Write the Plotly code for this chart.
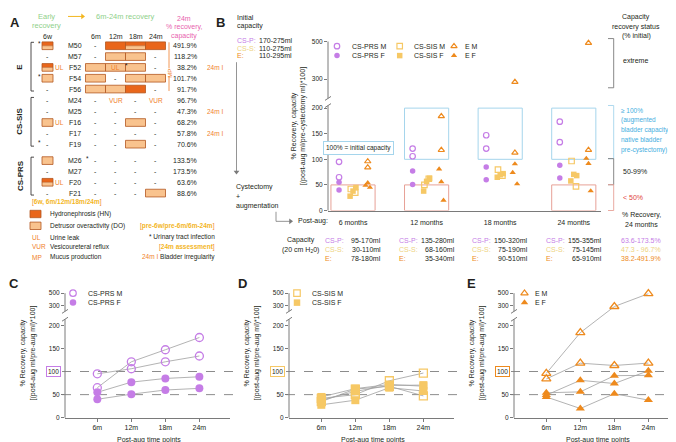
import plotly.graph_objects as go

W, H = 676, 442
FONT = "Arial, Liberation Sans, sans-serif"
TXT = "#231f20"
AX = "#7a7a7a"
LINEG = "#a0a0a0"
PURPLE = "#c57de6"
YELLOW = "#f6c865"
YELLOW_T = "#eed37f"
ORANGE = "#ee8a1d"
ORANGE_T = "#f07f2b"
HN_C = "#e9661b"
DO_C = "#f9c38e"
EDGE_C = "#b3571f"
GREEN = "#8fd08a"
PINK = "#e85fae"
BLUE_T = "#45aee0"
BLUE_BOX = "#a5d5ec"
RED_T = "#e2453c"
RED_BOX = "#e7a197"
GOLD = "#f3b61f"

# ---------------- data ----------------
timepoints = ["6m", "12m", "18m", "24m"]
month_labels = ["6 months", "12 months", "18 months", "24 months"]
y_ticks = [0, 50, 100, 150, 200, 300, 500]

# % recovery of capacity per animal at 6m, 12m, 18m, 24m
prs_M27 = [65, 121, 147, 173.5]
prs_M26 = [95, 106, 121, 133.5]
prs_F21 = [55, 77, 85, 88.6]
prs_F20 = [40, 51, 60, 63.6]

sis_M24 = [42, 50, 80, 96.7]
sis_M25 = [35, 62, 68, 47.3]
sis_F16 = [45, 63, 72, 68.2]
sis_F17 = [28, 38, 65, 57.8]
sis_F19 = [38, 57, 70, 70.6]

e_M50 = [96, 184, 285, 491.9]
e_M57 = [84, 118, 113, 118.2]
e_F52 = [45, 20, 52, 38.2]
e_F54 = [49, 81, 74, 101.7]
e_F56 = [54, 56, 91, 91.7]

init_cap_labels = ["CS-P:", "CS-S:", "E:"]
init_cap = ["170-275ml", "110-275ml", "110-295ml"]
cap_prs = ["95-170ml", "135-280ml", "150-320ml", "155-355ml"]
cap_sis = ["30-110ml", "68-160ml", "75-190ml", "75-145ml"]
cap_e = ["78-180ml", "35-340ml", "90-510ml", "65-910ml"]
range_24m = ["63.6-173.5%", "47.3 - 96.7%", "38.2-491.9%"]

table_ids = ["M50", "M57", "F52", "F54", "F56", "M24", "M25", "F16", "F17", "F19",
             "M26", "M27", "F20", "F21"]
table_group = [0, 0, 0, 0, 0, 1, 1, 1, 1, 1, 2, 2, 2, 2]
group_names = ["E", "CS-SIS", "CS-PRS"]
early_6w = ["HN/DO", "-", "HN/DO", "DO", "-", "-", "-", "DO", "-", "-", "DO", "-", "HN/DO", "-"]
early_ul = [0, 0, 1, 0, 0, 0, 0, 1, 0, 0, 0, 0, 1, 0]
uti_pre6w = [1, 0, 0, 1, 0, 0, 0, 0, 0, 1, 0, 0, 0, 0]
uti_pre6m = [0, 0, 0, 0, 0, 0, 0, 0, 0, 0, 1, 0, 0, 0]
post_6m_24m = [
    ["-", "HN", "HN/DO", "HN"],
    ["-", "DO", "DO", "-"],
    ["DO", "DO", "DO", "-"],
    ["DO", "-", "DO", "DO"],
    ["DO", "DO", "HN", "-"],
    ["-", "VUR", "-", "VUR"],
    ["-", "-", "-", "-"],
    ["-", "-", "DO", "-"],
    ["-", "-", "-", "-"],
    ["-", "-", "DO", "-"],
    ["-", "-", "-", "-"],
    ["-", "-", "-", "-"],
    ["-", "-", "-", "-"],
    ["-", "-", "-", "DO"],
]
post_marks = [["", "", "", ""]] * 2 + [["", "UL", "*", ""]] + [["", "", "", ""]] * 11
recovery_24m = [491.9, 118.2, 38.2, 101.7, 91.7, 96.7, 47.3, 68.2, 57.8, 70.6,
                133.5, 173.5, 63.6, 88.6]
irregular_24m = [0, 0, 1, 0, 0, 0, 1, 0, 1, 0, 0, 0, 0, 0]


# ---------------- helpers ----------------
def px(x):
    return x / W


def py(y):
    return 1 - y / H


def tB(v):  # broken axis transform, panel B
    return v if v <= 200 else 256.5 + (v - 300) * 0.368


def tC(v):  # broken axis transform, panels C-E
    return v if v <= 200 else 242.5 + (v - 300) * 0.134


ann = []
shapes = []
overlay_marks = []  # (x, y, symbol, size, color, open)


def text(x, y, s, size=7, color=TXT, xanchor="center", bold=False, angle=0, **kw):
    if bold:
        s = "<b>%s</b>" % s
    d = dict(x=px(x), y=py(y), xref="paper", yref="paper", text=s, showarrow=False,
             xanchor=xanchor, yanchor="middle", textangle=angle,
             font=dict(size=size, color=color, family=FONT))
    d.update(kw)
    ann.append(d)


def line(x0, y0, x1, y1, color=AX, width=1, dash=None, layer="above", xref="paper", yref="paper"):
    if xref == "paper":
        x0, x1 = px(x0), px(x1)
    if yref == "paper":
        y0, y1 = py(y0), py(y1)
    shapes.append(dict(type="line", xref=xref, yref=yref, x0=x0, y0=y0, x1=x1, y1=y1,
                       line=dict(color=color, width=width, dash=dash), layer=layer))


def rect(x0, y0, x1, y1, fill=None, edge=None, width=0.8, xref="paper", yref="paper", layer="above"):
    if xref == "paper":
        x0, x1 = px(x0), px(x1)
    if yref == "paper":
        y0, y1 = py(y0), py(y1)
    shapes.append(dict(type="rect", xref=xref, yref=yref, x0=x0, y0=y0, x1=x1, y1=y1,
                       fillcolor=fill if fill else "rgba(0,0,0,0)",
                       line=dict(color=edge if edge else "rgba(0,0,0,0)", width=width if edge else 0),
                       layer=layer))


def arrow(x0, y0, x1, y1, color=AX, width=0.8, head=5):
    if x0 == x1:
        sym, hx, hy = ("triangle-down" if y1 > y0 else "triangle-up"), x1, y1 - head / 2 * (1 if y1 > y0 else -1)
        line(x0, y0, x1, hy, color=color, width=width)
    else:
        sym, hx, hy = ("triangle-right" if x1 > x0 else "triangle-left"), x1 - head / 2 * (1 if x1 > x0 else -1), y1
        line(x0, y0, hx, y1, color=color, width=width)
    overlay_marks.append((hx, hy, sym, head, color, False))


def span(s, c):
    return '<span style="color:%s">%s</span>' % (c, s)


fig = go.Figure()

# ================= PANEL A (table) =================
text(7, 11, "A", size=13, bold=True)
text(38, 5, "Early", size=7.5, color=GREEN)
text(38, 14, "recovery", size=7.5, color=GREEN)
arrow(60, 4.5, 77, 4.5, color=GOLD, width=1, head=5)
text(117.5, 5, "6m-24m recovery", size=7.5, color=GREEN)
text(176, 7, "24m", size=7, color=PINK)
text(176, 15.5, "% recovery,", size=7, color=PINK)
text(176, 24, "capacity", size=7, color=PINK)

COL_X = {"6w": 39.5, "6m": 87.5, "12m": 107.5, "18m": 127.5, "24m": 147.5}
for c, xv in COL_X.items():
    text(xv, 24.5, c, size=7)

ROW_Y0, ROW_STEP = 34.3, 11.0
GROUP_GAP = [0, 1.0, 6.7]
CELL_W, CELL_H, EARLY_W = 20, 7.8, 11


def row_y(i):
    return ROW_Y0 + ROW_STEP * i + GROUP_GAP[table_group[i]]


def cell(xc, yc, w, status):
    x0, x1 = xc - w / 2, xc + w / 2
    y0, y1 = yc - CELL_H / 2, yc + CELL_H / 2
    if status == "HN":
        rect(x0, y0, x1, y1, fill=HN_C, edge=EDGE_C)
    elif status == "DO":
        rect(x0, y0, x1, y1, fill=DO_C, edge=EDGE_C)
    elif status == "HN/DO":
        rect(x0, y0, x1, yc, fill=HN_C)
        rect(x0, yc, x1, y1, fill=DO_C)
        line(x0, yc, x1, yc, color=EDGE_C, width=0.6)
        rect(x0, y0, x1, y1, edge=EDGE_C)


for i, rid in enumerate(table_ids):
    yv = row_y(i)
    text(67, yv, rid, size=7)
    if early_6w[i] == "-":
        text(COL_X["6w"], yv, "-", size=7)
    else:
        cell(COL_X["6w"], yv, EARLY_W, early_6w[i])
    if early_ul[i]:
        text(51.5, yv, "UL", size=6.5, color=ORANGE_T)
    if uti_pre6w[i]:
        text(31.5, yv - 2, "*", size=6.5)
    if uti_pre6m[i]:
        text(79.5, yv - 2, "*", size=6.5)
    for j, c in enumerate(["6m", "12m", "18m", "24m"]):
        s = post_6m_24m[i][j]
        if s in ("HN", "DO", "HN/DO"):
            cell(COL_X[c], yv, CELL_W, s)
        elif s == "VUR":
            text(COL_X[c], yv, "VUR", size=6.5, color=ORANGE_T)
        else:
            text(COL_X[c], yv, "-", size=7)
        m = post_marks[i][j]
        if m == "UL":
            text(COL_X[c], yv, "UL", size=6.5, color=ORANGE_T)
        elif m == "*":
            text(COL_X[c] - CELL_W / 2 + 1, yv - 1.5, "*", size=6.5)
    text(191, yv, "%.1f%%" % recovery_24m[i], size=7, xanchor="right")
    if irregular_24m[i]:
        text(197, yv, "24m I", size=6.5, color=ORANGE_T, xanchor="left")

# group labels + brackets
for g, gname in enumerate(group_names):
    rows = [i for i in range(len(table_ids)) if table_group[i] == g]
    ytop, ybot = row_y(rows[0]) - 3.5, row_y(rows[-1]) + 2
    line(23, ytop, 23, ybot, color=TXT, width=0.8)
    line(23, ytop, 26, ytop, color=TXT, width=0.8)
    line(23, ybot, 26, ybot, color=TXT, width=0.8)
    text(12, (ytop + ybot) / 2, gname, size=8, bold=True, angle=-90)

# mucus production bracket
line(161, row_y(0) - 3.5, 161, row_y(2) + 1, color=ORANGE_T, width=0.8)
text(162, (row_y(2) + row_y(3)) / 2 + 1, "MP", size=6, color=ORANGE_T, angle=-90)
line(161, row_y(3) - 2, 161, row_y(4) + 2, color=ORANGE_T, width=0.8)

# legend section
text(22, 193.3, span("[", ORANGE_T) + span("<b>6w, 6m/12m/18m/24m</b>", GOLD) + span("]", ORANGE_T),
     size=6.5, xanchor="left")
rect(22, 201.5, 33, 209, fill=HN_C, edge=EDGE_C)
text(40, 205.3, "Hydronephrosis (HN)", size=6.5, xanchor="left")
rect(22, 213.5, 33, 221, fill=DO_C, edge=EDGE_C)
text(40, 217.3, "Detrusor overactivity (DO)", size=6.5, xanchor="left")
text(209, 217.3, span("[", ORANGE_T) + span("<b>pre-6w/pre-6m/6m-24m</b>", GOLD) + span("]", ORANGE_T),
     size=6.5, xanchor="right")
text(22, 228.7, "UL", size=6.5, color=ORANGE_T, xanchor="left")
text(40, 228.7, "Urine leak", size=6.5, xanchor="left")
text(209, 228.7, "* Urinary tract infection", size=6.5, xanchor="right")
text(22, 238.7, "VUR", size=6.5, color=ORANGE_T, xanchor="left")
text(40, 238.7, "Vesicoureteral reflux", size=6.5, xanchor="left")
text(209, 238.7, span("[", ORANGE_T) + span("<b>24m assessment</b>", GOLD) + span("]", ORANGE_T),
     size=6.5, xanchor="right")
text(22, 249, "MP", size=6.5, color=ORANGE_T, xanchor="left")
text(40, 249, "Mucus production", size=6.5, xanchor="left")
text(209, 249, span("24m I", ORANGE_T) + " Bladder irregularity", size=6.5, xanchor="right")

# ================= PANEL B =================
text(212, 11, "B", size=13, bold=True)
text(227, 5.3, "Initial", size=7, xanchor="left")
text(227, 14.7, "capacity", size=7, xanchor="left")
for k, (lab, val, col) in enumerate(zip(init_cap_labels, init_cap, [PURPLE, YELLOW_T, ORANGE])):
    yy = 28.7 + 8 * k
    text(227, yy, lab, size=7, color=col, xanchor="left")
    text(249, yy, val, size=7, xanchor="left")
arrow(228.5, 51, 228.5, 165)
text(226, 178.3, "Cystectomy", size=7, xanchor="left")
text(226, 187.5, "+", size=7, xanchor="left")
text(226, 196.7, "augmentation", size=7, xanchor="left")
line(268, 203, 268, 212.7, width=0.8)
arrow(268, 212.7, 285, 212.7)
text(288, 212.7, "Post-aug:", size=7, xanchor="left")

text(292.5, 232, "Capacity", size=7)
text(292.5, 241.5, "(20 cm H<sub>2</sub>0)", size=7)
for i in range(4):
    for k, (lab, vals, col) in enumerate(zip(init_cap_labels, [cap_prs, cap_sis, cap_e],
                                               [PURPLE, YELLOW_T, ORANGE])):
        yy = 232 + 9.35 * k
        ann.append(dict(x=i + 1, y=py(yy), xref="x", yref="paper", text=lab, showarrow=False,
                        xanchor="left", yanchor="middle", xshift=-30,
                        font=dict(size=7, color=col, family=FONT)))
        ann.append(dict(x=i + 1, y=py(yy), xref="x", yref="paper", text=vals[i], showarrow=False,
                        xanchor="right", yanchor="middle", xshift=30,
                        font=dict(size=7, color=TXT, family=FONT)))
for k, (s, col) in enumerate(zip(range_24m, [PURPLE, YELLOW_T, ORANGE])):
    text(633, 232 + 9.35 * k, s, size=7, color=col)

# recovery status column
text(628, 5.3, "Capacity", size=7)
text(628, 15, "recovery status", size=7)
text(628, 24.5, "(% initial)", size=7)
for (y0, y1, col) in [(27, 77, AX), (95, 149, BLUE_BOX), (149, 175.5, AX), (175.5, 201.7, RED_BOX)]:
    line(605.7, y0, 605.7, y1, color=col, width=0.9)
    line(600, y0, 605.7, y0, color=col, width=0.9)
    line(600, y1, 605.7, y1, color=col, width=0.9)
text(613, 49, "extreme", size=7, xanchor="left")
for k, s in enumerate(["\u2265 100%", "(augmented", "bladder capacity \u2265", "native bladder",
                       "pre-cystectomy)"]):
    text(611, 100 + 10 * k, s, size=6.5, color=BLUE_T, xanchor="left")
text(613, 162, "50-99%", size=7, xanchor="left")
text(613, 188, "&lt; 50%", size=7, color=RED_T, xanchor="left")
text(633, 206.7, "% Recovery,", size=7)
text(633, 216, "24 months", size=7)

# boxes (blue >=100, red <50)
for i in [2, 3, 4]:
    rect(i - 0.3, tB(100), i + 0.3, tB(200), edge=BLUE_BOX, width=1, xref="x", yref="y", layer="below")
for i in [1, 2, 4]:
    rect(i - 0.3, tB(0), i + 0.3, tB(50), edge=RED_BOX, width=1, xref="x", yref="y", layer="below")
ann.append(dict(x=px(350.5), y=py(138.5), xref="paper", yref="paper", text="100% = initial capacity",
                showarrow=False, xanchor="center", yanchor="middle", bgcolor="white",
                bordercolor=BLUE_BOX, borderwidth=1, borderpad=2,
                font=dict(size=6.5, color=TXT, family=FONT)))

# B axis line (broken)
B_AX = 320


def pB(t):
    return 201.7 - t * (171.7 / tB(500))


line(B_AX, pB(0), B_AX, pB(205), width=1)
line(B_AX, pB(219), B_AX, pB(tB(500)), width=1)
for t in (205, 219):
    yy = pB(t)
    line(B_AX - 3, yy + 2, B_AX + 3, yy - 2, width=1)
text(290, 116, "% Recovery, capacity<br>[(post-aug ml/pre-cystectomy ml)*100]", size=7, angle=-90)

groupsB = [
    ([prs_M27, prs_M26], [prs_F21, prs_F20], "circle", PURPLE, -0.19, [0, 0], [0, 0]),
    ([sis_M24, sis_M25], [sis_F16, sis_F17, sis_F19], "square", YELLOW, 0.0, [-0.03, 0.03], [0.04, -0.04, 0.0]),
    ([e_M50, e_M57], [e_F52, e_F54, e_F56], "triangle-up", ORANGE, 0.2, [0, 0], [0.03, -0.03, 0.0]),
]
for males, females, sym, col, off, jm, jf in groupsB:
    for animals, jit, opn in ((males, jm, True), (females, jf, False)):
        xs, ys = [], []
        for a, j in zip(animals, jit):
            for t, v in enumerate(a):
                xs.append(t + 1 + off + j)
                ys.append(tB(v))
        fig.add_trace(go.Scatter(x=xs, y=ys, mode="markers", xaxis="x", yaxis="y", cliponaxis=False,
                                 marker=dict(symbol=sym + ("-open" if opn else ""), size=5.5, color=col,
                                             line=dict(width=1.2 if opn else 0, color=col)),
                                 showlegend=False, hoverinfo="skip"))

# B legend
legB = [(329, 342, "circle", PURPLE, "CS-PRS"), (391.7, 404, "square", YELLOW, "CS-SIS"),
        (446, 455, "triangle-up", ORANGE, "E")]
for mx, tx, sym, col, name in legB:
    for k, (sx, opn) in enumerate((("M", True), ("F", False))):
        yy = 34.7 + 9.6 * k
        overlay_marks.append((mx, yy, sym, 5.5, col, opn))
        text(tx, yy, "%s %s" % (name, sx), size=7, xanchor="left")

# ================= PANELS C, D, E =================
CDE = [
    ("C", 0, [prs_M27, prs_M26], [prs_F21, prs_F20], "circle", PURPLE, "CS-PRS", 65, 78),
    ("D", 224, [sis_M24, sis_M25], [sis_F16, sis_F17, sis_F19], "square", YELLOW, "CS-SIS", 289, 302),
    ("E", 449, [e_M50, e_M57], [e_F52, e_F54, e_F56], "triangle-up", ORANGE, "E", 516.5, 525),
]
Y0C, Y500C = 412.3, 285.7


def pC(t):
    return Y0C - t * ((Y0C - Y500C) / tC(500))


cde_ticks = [v for v in y_ticks if v != 100]
axes = {}
for n, (letter, dx, males, females, sym, col, gname, lmx, ltx) in enumerate(CDE):
    k = n + 2
    xa, ya = "x%d" % k, "y%d" % k
    ax0 = 57 + dx
    axes["xaxis%d" % k] = dict(domain=[px(ax0), px(ax0 + 165)], range=[0.05, 4.9], anchor=ya,
                               showline=True, linecolor=AX, linewidth=1, ticks="outside", ticklen=3,
                               tickcolor=AX, tickvals=[1, 2, 3, 4], ticktext=timepoints,
                               tickfont=dict(size=7, color=TXT, family=FONT),
                               showgrid=False, zeroline=False, fixedrange=True)
    axes["yaxis%d" % k] = dict(domain=[py(Y0C), py(Y500C)], range=[0, tC(500)], anchor=xa,
                               showline=False, ticks="outside", ticklen=3, tickcolor=AX,
                               tickvals=[tC(v) for v in cde_ticks],
                               ticktext=[str(v) for v in cde_ticks],
                               tickfont=dict(size=6.5, color=TXT, family=FONT),
                               showgrid=False, zeroline=False, fixedrange=True)
    # broken y axis line
    line(ax0, pC(0), ax0, pC(213), width=1)
    line(ax0, pC(230), ax0, pC(tC(500)), width=1)
    for t in (213, 230):
        yy = pC(t)
        line(ax0 - 3, yy + 2, ax0 + 3, yy - 2, width=1)
    # dashed reference lines
    for v in (100, 50):
        shapes.append(dict(type="line", xref="paper", yref=ya, x0=px(ax0 - 3),
                           x1=px(min(ax0 + 173, 676)), y0=v, y1=v, layer="below",
                           line=dict(color="#8c8c8c", width=1, dash="dash")))
    ann.append(dict(x=px(ax0 - 4), y=100, xref="paper", yref=ya, text="100", showarrow=False,
                    xanchor="right", yanchor="middle", bordercolor=col, borderwidth=1, borderpad=1,
                    bgcolor="white", font=dict(size=6.5, color=TXT, family=FONT)))
    # animal lines
    for a in males + females:
        fig.add_trace(go.Scatter(x=[1, 2, 3, 4], y=[tC(v) for v in a], mode="lines", xaxis=xa, yaxis=ya,
                                 line=dict(color=LINEG, width=0.8), cliponaxis=False,
                                 showlegend=False, hoverinfo="skip"))
    for animals, opn in ((males, True), (females, False)):
        xs, ys = [], []
        for a in animals:
            for t, v in enumerate(a):
                xs.append(t + 1)
                ys.append(tC(v))
        fig.add_trace(go.Scatter(x=xs, y=ys, mode="markers", xaxis=xa, yaxis=ya, cliponaxis=False,
                                 marker=dict(symbol=sym + ("-open" if opn else ""), size=8,
                                             color=col, line=dict(width=1.3 if opn else 0, color=col)),
                                 showlegend=False, hoverinfo="skip"))
    # legend
    for j, (sx, opn) in enumerate((("M", True), ("F", False))):
        yy = 285.7 + 9.6 * j
        overlay_marks.append((lmx, yy, sym, 6.5, col, opn))
        text(ltx, yy, "%s %s" % (gname, sx), size=7, xanchor="left")
    text(6 + dx + (4 if n == 1 else 0) + (8 if n == 2 else 0), 276, letter, size=13, bold=True)
    text(20 + dx, 347, "% Recovery, capacity<br>[(post-aug ml/pre-aug ml)*100]", size=7, angle=-90)
    text(140.5 + dx, 435, "Post-aug time points", size=7)

# overlay marks (legend symbols, arrow heads) on a pixel-space axis
for (mx, my, sym, sz, col, opn) in overlay_marks:
    fig.add_trace(go.Scatter(x=[mx], y=[my], mode="markers", xaxis="x5", yaxis="y5", cliponaxis=False,
                             marker=dict(symbol=sym + ("-open" if opn else ""), size=sz, color=col,
                                         line=dict(width=1.2 if opn else 0, color=col)),
                             showlegend=False, hoverinfo="skip"))

layout_axes = dict(
    xaxis=dict(domain=[px(320), px(593)], range=[0.66, 4.37], anchor="y", showline=True, linecolor=AX,
               linewidth=1, ticks="outside", ticklen=5, tickcolor="rgba(0,0,0,0)",
               tickvals=[1, 2, 3, 4], ticktext=month_labels,
               tickfont=dict(size=7, color=TXT, family=FONT),
               showgrid=False, zeroline=False, fixedrange=True),
    yaxis=dict(domain=[py(201.7), py(30)], range=[0, tB(500)], anchor="x", showline=False,
               ticks="outside", ticklen=3, tickcolor=AX,
               tickvals=[tB(v) for v in y_ticks], ticktext=[str(v) for v in y_ticks],
               tickfont=dict(size=6.5, color=TXT, family=FONT),
               showgrid=False, zeroline=False, fixedrange=True),
    xaxis5=dict(domain=[0, 1], range=[0, W], anchor="y5", visible=False, fixedrange=True),
    yaxis5=dict(domain=[0, 1], range=[H, 0], anchor="x5", visible=False, fixedrange=True),
)
layout_axes.update(axes)

fig.update_layout(
    width=W, height=H, margin=dict(l=0, r=0, t=0, b=0),
    paper_bgcolor="white", plot_bgcolor="rgba(0,0,0,0)",
    showlegend=False, font=dict(family=FONT, color=TXT, size=7),
    annotations=ann, shapes=shapes, **layout_axes,
)
fig.write_html("out.html")
